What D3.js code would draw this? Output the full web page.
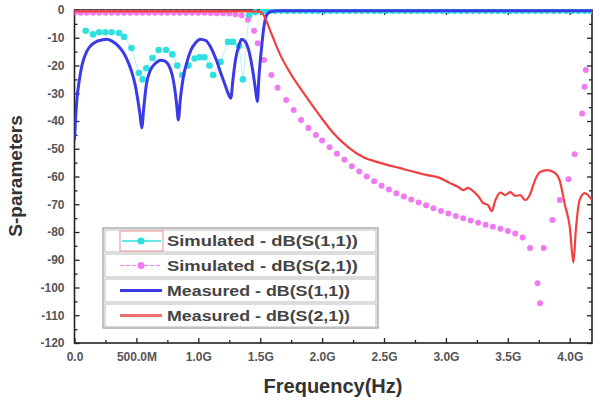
<!DOCTYPE html>
<html><head><meta charset="utf-8">
<script src="https://cdnjs.cloudflare.com/ajax/libs/d3/7.8.5/d3.min.js"></script>
<style>body{margin:0;background:#fff}svg{display:block}</style>
</head><body>
<svg id="c" width="600" height="400"></svg>
<script>
// ---- data (frequency in GHz, values in dB) ----
const measS11Freq = [0.00,0.01,0.02,0.04,0.06,0.08,0.10,0.14,0.18,0.22,0.26,0.30,0.34,0.38,0.42,0.46,0.49,0.51,0.53,0.543,0.56,0.58,0.61,0.65,0.70,0.73,0.76,0.79,0.81,0.825,0.839,0.855,0.88,0.91,0.94,0.98,1.014,1.06,1.10,1.14,1.18,1.22,1.245,1.262,1.28,1.30,1.33,1.35,1.38,1.41,1.44,1.46,1.477,1.49,1.51,1.53,1.55,1.58,1.65,2.00,2.50,3.00,3.50,4.18];
const measS11dB   = [-47,-38,-32,-25,-20,-17,-14.8,-12.5,-11.3,-10.8,-10.5,-11.1,-12.4,-14.4,-17.4,-22,-27,-32,-38,-42.5,-35,-27,-22,-19.4,-18.1,-18.4,-19.8,-23.5,-28.5,-34,-39.6,-32,-24,-18.5,-14.5,-11.7,-10.5,-11,-13.4,-17.4,-22.5,-27.5,-30.5,-31.8,-25,-18,-12.5,-10.5,-11.5,-15,-22,-28,-33,-24,-14,-6,-2,-0.6,-0.3,-0.3,-0.3,-0.3,-0.3,-0.3];

const measS21Freq = [0.00,0.50,1.00,1.40,1.49,1.515,1.54,1.595,1.66,1.74,1.82,1.89,1.98,2.09,2.21,2.33,2.47,2.63,2.85,2.95,3.03,3.10,3.14,3.18,3.21,3.26,3.30,3.34,3.37,3.40,3.44,3.48,3.52,3.56,3.60,3.64,3.68,3.72,3.76,3.82,3.88,3.92,3.96,4.00,4.03,4.05,4.08,4.12,4.18];
const measS21dB   = [-0.5,-0.5,-0.5,-0.5,-0.6,-1,-3,-9,-16,-22.5,-28,-32.4,-38,-44.3,-49.4,-53,-55.1,-57,-59.5,-60.5,-62.3,-63.8,-64.9,-64.1,-64.9,-67,-69.5,-70.3,-72.5,-68.5,-65.8,-66.7,-65.6,-67,-66.7,-68.5,-66.4,-61.3,-58.4,-57.7,-58.7,-61.6,-70,-78,-91,-79,-68.5,-66,-68.5];

const simS11Freq = [0.09,0.15,0.20,0.25,0.30,0.36,0.40,0.46,0.52,0.55,0.58,0.63,0.68,0.74,0.79,0.83,0.87,0.92,0.97,1.01,1.05,1.09,1.12,1.18,1.24,1.28,1.33,1.36,1.41,1.46,1.52,1.57,1.62,1.67,1.72,1.77,1.82,1.87,1.92,1.97,2.02,2.07,2.12,2.17,2.22,2.27,2.32,2.37,2.42,2.47,2.52,2.57,2.62,2.67,2.72,2.77,2.82,2.87,2.92,2.97,3.02,3.07,3.12,3.17,3.22,3.27,3.32,3.37,3.42,3.47,3.52,3.57,3.62,3.67,3.72,3.77,3.82,3.87,3.92,3.97,4.02,4.07,4.12,4.17];
const simS11dB   = [-7.5,-8.8,-8,-8,-8,-8.3,-9.7,-13.7,-22.7,-25,-21,-17.3,-14.4,-14.4,-16,-20,-23.4,-20,-17.5,-17,-17,-20,-23.4,-18.7,-11.5,-11.5,-13,-25,-2,-0.8,-0.5,-0.4,-0.3,-0.3,-0.3,-0.3,-0.3,-0.3,-0.3,-0.3,-0.3,-0.3,-0.3,-0.3,-0.3,-0.3,-0.3,-0.3,-0.3,-0.3,-0.3,-0.3,-0.3,-0.3,-0.3,-0.3,-0.3,-0.3,-0.3,-0.3,-0.3,-0.3,-0.3,-0.3,-0.3,-0.3,-0.3,-0.3,-0.3,-0.3,-0.3,-0.3,-0.3,-0.3,-0.3,-0.3,-0.3,-0.3,-0.3,-0.3,-0.3,-0.3,-0.3,-0.3];

const simS21Freq = [0.00,0.05,0.10,0.15,0.20,0.25,0.30,0.35,0.40,0.45,0.50,0.55,0.60,0.65,0.70,0.75,0.80,0.85,0.90,0.95,1.00,1.05,1.10,1.15,1.20,1.25,1.30,1.35,1.40,1.45,1.48,1.53,1.59,1.64,1.71,1.77,1.83,1.89,1.95,2.00,2.06,2.12,2.18,2.24,2.30,2.36,2.42,2.48,2.54,2.60,2.66,2.72,2.78,2.84,2.90,2.96,3.02,3.08,3.14,3.20,3.26,3.32,3.38,3.44,3.50,3.56,3.62,3.68,3.74,3.76,3.79,3.86,3.92,3.99,4.04,4.10,4.12,4.13];
const simS21dB   = [-1,-1,-1,-1,-1,-1,-1,-1,-1,-1,-1,-1,-1,-1,-1,-1,-1,-1,-1,-1,-1,-1,-1.1,-1.2,-1.2,-1.3,-1.5,-2,-3.5,-7.5,-12,-18,-23.4,-28,-32.4,-36,-39.6,-42.5,-45,-47,-49.5,-51.8,-54,-56.3,-58.2,-60,-61.7,-63.3,-64.7,-66,-67.2,-68.3,-69.4,-70.4,-71.4,-72.4,-73.3,-74.2,-75,-75.9,-76.7,-77.4,-78.1,-78.8,-79.6,-80.5,-82,-85.8,-98.5,-105.7,-85.8,-75.7,-68.5,-61,-52,-37.3,-27.7,-21.6];

const xTickValues = [0,0.5,1.0,1.5,2.0,2.5,3.0,3.5,4.0];
const xTickLabels = ["0.0","500.0M","1.0G","1.5G","2.0G","2.5G","3.0G","3.5G","4.0G"];
const yTickValues = [0,-10,-20,-30,-40,-50,-60,-70,-80,-90,-100,-110,-120];
const yTickLabels = ["0","-10","-20","-30","-40","-50","-60","-70","-80","-90","-100","-110","-120"];
const legendLabels = ["Simulated - dB(S(1,1))","Simulated - dB(S(2,1))","Measured - dB(S(1,1))","Measured - dB(S(2,1))"];

// ---- drawing ----
const svg = d3.select("#c");
const L = 74.5, R = 592, T = 10, B = 343;
const x = d3.scaleLinear().domain([0, 4.18]).range([L, R]);
const y = d3.scaleLinear().domain([-120, 0]).range([B, T]);

const colCyan = "#2fe0e0", colPink = "#f07af0", colBlue = "#3a3ae8", colRed = "#f04040";

svg.append("defs").append("clipPath").attr("id","plot")
  .append("rect").attr("x",L).attr("y",T-1).attr("width",R-L).attr("height",B-T+1);

// frame (drawn first so curves overlay it, as in the original)
svg.append("rect").attr("x",L).attr("y",T).attr("width",R-L).attr("height",B-T)
  .attr("fill","none").attr("stroke","#222").attr("stroke-width",1.6);

// ---- axes ----
const fmtX = v => xTickLabels[xTickValues.indexOf(v)];
const fmtY = v => yTickLabels[yTickValues.indexOf(v)];
const xMinor = xTickValues.map(v=>v+0.25).filter(v=>v<4.18);
const yMinor = yTickValues.slice(1).map(v=>v+5);

function styleAxis(sel){
  sel.select(".domain").remove();
  sel.selectAll("line").attr("stroke","#222").attr("stroke-width",1.3);
  sel.selectAll("text").attr("font-family","Liberation Sans, Arial, sans-serif")
     .attr("font-weight","bold").attr("font-size",12).attr("fill","#555");
}
const gxb = svg.append("g").attr("transform",`translate(0,${B})`)
  .call(d3.axisBottom(x).tickValues(xTickValues).tickFormat(fmtX).tickSizeInner(-5).tickSizeOuter(0).tickPadding(9));
styleAxis(gxb);
const gxbm = svg.append("g").attr("transform",`translate(0,${B})`)
  .call(d3.axisBottom(x).tickValues(xMinor).tickFormat("").tickSizeInner(-3).tickSizeOuter(0));
styleAxis(gxbm);
const gxt = svg.append("g").attr("transform",`translate(0,${T})`)
  .call(d3.axisTop(x).tickValues(xTickValues).tickFormat("").tickSizeInner(-5).tickSizeOuter(0));
styleAxis(gxt);
const gxtm = svg.append("g").attr("transform",`translate(0,${T})`)
  .call(d3.axisTop(x).tickValues(xMinor).tickFormat("").tickSizeInner(-3).tickSizeOuter(0));
styleAxis(gxtm);

const gyl = svg.append("g").attr("transform",`translate(${L},0)`)
  .call(d3.axisLeft(y).tickValues(yTickValues).tickFormat(fmtY).tickSizeInner(-5).tickSizeOuter(0).tickPadding(10));
styleAxis(gyl);
const gylm = svg.append("g").attr("transform",`translate(${L},0)`)
  .call(d3.axisLeft(y).tickValues(yMinor).tickFormat("").tickSizeInner(-3).tickSizeOuter(0));
styleAxis(gylm);
const gyr = svg.append("g").attr("transform",`translate(${R},0)`)
  .call(d3.axisRight(y).tickValues(yTickValues).tickFormat("").tickSizeInner(-5).tickSizeOuter(0));
styleAxis(gyr);
const gyrm = svg.append("g").attr("transform",`translate(${R},0)`)
  .call(d3.axisRight(y).tickValues(yMinor).tickFormat("").tickSizeInner(-3).tickSizeOuter(0));
styleAxis(gyrm);

const g = svg.append("g").attr("clip-path","url(#plot)");
const line = d3.line().x(d=>x(d[0])).y(d=>y(d[1])).curve(d3.curveMonotoneX);
const zip = (a,b)=>a.map((v,i)=>[v,b[i]]);

// simulated S11 (cyan)
const s11sim = zip(simS11Freq, simS11dB);
g.append("path").datum(s11sim).attr("d", d3.line().x(d=>x(d[0])).y(d=>y(d[1])))
  .attr("fill","none").attr("stroke",colCyan).attr("stroke-width",1).attr("opacity",0.35);
g.selectAll(".c11").data(s11sim).join("circle").attr("cx",d=>x(d[0])).attr("cy",d=>y(d[1]))
  .attr("r",3.3).attr("fill",colCyan);

// simulated S21 (pink)
const s21sim = zip(simS21Freq, simS21dB);
g.selectAll(".c21").data(s21sim).join("circle").attr("cx",d=>x(d[0])).attr("cy",d=>y(d[1]))
  .attr("r",3).attr("fill",colPink);

// measured S11 (blue)
g.append("path").datum(zip(measS11Freq, measS11dB)).attr("d", line)
  .attr("fill","none").attr("stroke",colBlue).attr("stroke-width",3).attr("stroke-linejoin","round");

// measured S21 (red)
g.append("path").datum(zip(measS21Freq, measS21dB)).attr("d", line)
  .attr("fill","none").attr("stroke",colRed).attr("stroke-width",2.2).attr("stroke-linejoin","round");

// axis titles
svg.append("text").attr("x",333).attr("y",393).attr("text-anchor","middle")
  .attr("font-family","Liberation Sans, Arial, sans-serif").attr("font-weight","bold")
  .attr("font-size",20).attr("fill","#333").text("Frequency(Hz)");
svg.append("text").attr("transform","translate(22,176) rotate(-90)").attr("text-anchor","middle")
  .attr("font-family","Liberation Sans, Arial, sans-serif").attr("font-weight","bold")
  .attr("font-size",19).attr("fill","#333").text("S-parameters");

// ---- legend ----
const lg = svg.append("g");
const rowTop = [229, 253, 278, 303], rowH = [24, 25, 25, 25];
lg.append("rect").attr("x",103).attr("y",228).attr("width",275).attr("height",100)
  .attr("fill","#fff").attr("stroke","#999").attr("stroke-width",1.2);
legendLabels.forEach((lab,i)=>{
  const yc = rowTop[i] + rowH[i]/2;
  lg.append("rect").attr("x",105).attr("y",rowTop[i]+1).attr("width",271).attr("height",rowH[i]-2)
    .attr("fill","#fff").attr("stroke","#bbb").attr("stroke-width",1);
  if(i===0){
    lg.append("rect").attr("x",120).attr("y",rowTop[i]+2).attr("width",43).attr("height",rowH[i]-4)
      .attr("fill","none").attr("stroke","#e89090").attr("stroke-width",1);
    lg.append("line").attr("x1",122).attr("x2",161).attr("y1",yc).attr("y2",yc)
      .attr("stroke",colCyan).attr("stroke-width",1.5);
    lg.append("circle").attr("cx",141).attr("cy",yc).attr("r",3.5).attr("fill",colCyan);
  } else if(i===1){
    lg.append("line").attr("x1",120).attr("x2",162).attr("y1",yc).attr("y2",yc)
      .attr("stroke",colPink).attr("stroke-width",1).attr("stroke-dasharray","4,2");
    lg.append("circle").attr("cx",141).attr("cy",yc).attr("r",3.5).attr("fill",colPink);
  } else {
    lg.append("line").attr("x1",120).attr("x2",162).attr("y1",yc).attr("y2",yc)
      .attr("stroke", i===2?colBlue:"#f07070").attr("stroke-width",3);
  }
  lg.append("text").attr("x",167).attr("y",yc+5)
    .attr("font-family","Liberation Sans, Arial, sans-serif").attr("font-weight","bold")
    .attr("font-size",14).attr("fill","#444").attr("textLength",i<2?191:183).attr("lengthAdjust","spacingAndGlyphs")
    .text(lab);
});
</script>
</body></html>
